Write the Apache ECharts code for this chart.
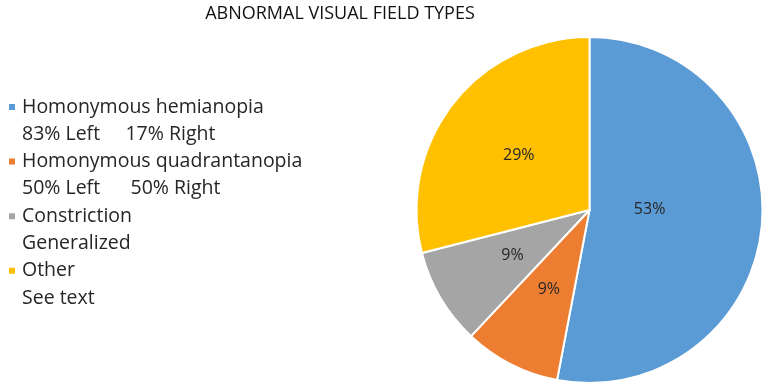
<!DOCTYPE html>
<html>
<head>
<meta charset="utf-8">
<script src="https://cdn.jsdelivr.net/npm/echarts@6/dist/echarts.min.js"></script>
<style>
html, body { margin: 0; padding: 0; background: #fff; }
#main { width: 768px; height: 386px; }
</style>
</head>
<body>
<div id="main"></div>
<script>
var names = [
	'Homonymous hemianopia\n83% Left     17% Right',
	'Homonymous quadrantanopia\n50% Left      50% Right',
	'Constriction\nGeneralized',
	'Other\nSee text'
];
var values = [53, 9, 9, 29];
var colors = ['#5B9BD5', '#ED7D31', '#A5A5A5', '#FFC000'];

var chart = echarts.init(document.getElementById('main'));

var data = [];
for (var i = 0; i < names.length; i++) {
	data.push({ name: names[i], value: values[i], itemStyle: { color: colors[i] } });
}

var lh = 27.3;

var option = {
	animation: false,
	title: {
		text: 'ABNORMAL VISUAL FIELD TYPES',
		left: 335,
		textAlign: 'center',
		top: 0,
		textStyle: {
			fontFamily: 'Open Sans',
			fontWeight: 'normal',
			fontSize: 18,
			color: '#111'
		}
	},
	legend: {
		orient: 'vertical',
		left: 7,
		top: 66,
		padding: 0,
		itemWidth: 8,
		itemHeight: 8,
		itemGap: -lh,
		icon: 'rect',
		// blank first line so the marker lines up with the first text row
		formatter: function(name) {
			return '\n' + name;
		},
		textStyle: {
			fontFamily: 'Open Sans',
			fontSize: 19.5,
			color: '#262626',
			lineHeight: lh,
			padding: [0, 0, 0, 1]
		}
	},
	series: [
		{
			type: 'pie',
			center: [589.5, 210],
			radius: 173,
			startAngle: 90,
			clockwise: true,
			label: {
				show: true,
				position: 'inside',
				formatter: '{c}%',
				fontFamily: 'Open Sans',
				fontSize: 16,
				color: '#262626'
			},
			labelLine: { show: false },
			labelLayout: function(p) {
				// excel pulls the big slice label towards the centre
				return p.dataIndex === 0 ? { dx: -29, dy: -9 } : {};
			},
			itemStyle: {
				borderColor: '#fff',
				borderWidth: 2
			},
			emphasis: { disabled: true },
			data: data
		}
	]
};

chart.setOption(option);
</script>
</body>
</html>
